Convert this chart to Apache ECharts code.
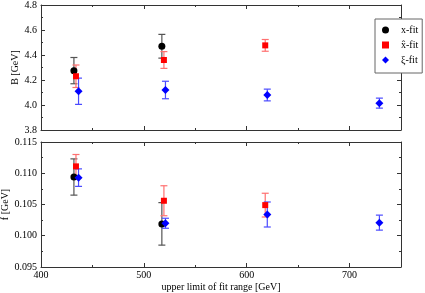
<!DOCTYPE html>
<html><head><meta charset="utf-8">
<script src="https://cdn.jsdelivr.net/npm/echarts@6/dist/echarts.min.js"></script>
<style>html,body{margin:0;padding:0;background:#fff}#c{width:425px;height:293px}</style>
</head><body><div id="c"></div>
<script>
// x positions (GeV)
const xX    = [432, 517.5];
const xXhat = [434, 519.5, 618];
const xXi   = [436.5, 521, 620, 729];
// B [GeV]
const B_x      = [4.275, 4.47];
const B_x_err  = [0.105, 0.095];
const B_xhat   = [4.23, 4.36, 4.477];
const B_xhat_err = [0.09, 0.067, 0.047];
const B_xi     = [4.11, 4.12, 4.08, 4.015];
const B_xi_err = [0.105, 0.07, 0.047, 0.04];
// f [GeV]
const f_x      = [0.1094, 0.1019];
const f_x_err  = [0.0029, 0.0034];
const f_xhat   = [0.1111, 0.1056, 0.1049];
const f_xhat_err = [0.0019, 0.0024, 0.0019];
const f_xi     = [0.1093, 0.1020, 0.1034, 0.1021];
const f_xi_err = [0.0014, 0.0008, 0.0020, 0.0012];

const names = ['x-fit', 'x\u0302-fit', '\u03BE-fit'];
const colors = ['#000000', '#ff0000', '#0000ff'];
const errColors = ['#555555', '#ff7070', '#4a4aff'];
const symbols = ['circle', 'rect', 'diamond'];
const symSizes = [7, 6, 8];

const FONT = 'Liberation Serif';
const axisColor = '#333';

function xAxisDef(grid, pos, labels, name) {
  return {
    type: 'value', gridIndex: grid, position: pos, min: 400, max: 750, interval: 100,
    axisLine: {show: true, onZero: false, lineStyle: {color: axisColor, width: 1}},
    axisTick: {show: true, inside: true, length: 4, lineStyle: {color: axisColor}},
    minorTick: {show: true, splitNumber: 2, length: 2, lineStyle: {color: axisColor}},
    splitLine: {show: false},
    axisLabel: {show: labels, color: '#000', fontFamily: FONT, fontSize: 10, margin: 3,
      showMaxLabel: false},
    name: name || '', nameLocation: 'middle', nameGap: 15, nameMoveOverlap: false,
    nameTextStyle: {color: '#000', fontFamily: FONT, fontSize: 10}
  };
}
function yAxisDef(grid, pos, labels, min, max, interval, dec, name, gap) {
  return {
    type: 'value', gridIndex: grid, position: pos, min: min, max: max, interval: interval,
    axisLine: {show: true, onZero: false, lineStyle: {color: axisColor, width: 1}},
    axisTick: {show: true, inside: true, length: 4, lineStyle: {color: axisColor}},
    minorTick: {show: true, splitNumber: 2, length: 2, lineStyle: {color: axisColor}},
    splitLine: {show: false},
    axisLabel: {show: labels, color: '#000', fontFamily: FONT, fontSize: 10, margin: 4,
      formatter: v => v.toFixed(dec)},
    name: name || '', nameLocation: 'middle', nameGap: gap || 30, nameMoveOverlap: false,
    nameTextStyle: {color: '#000', fontFamily: FONT, fontSize: 10}
  };
}

function errSeries(xs, ys, es, xAxisIndex, yAxisIndex, color) {
  return {
    type: 'custom', xAxisIndex: xAxisIndex, yAxisIndex: yAxisIndex, z: 1, silent: true,
    data: xs.map((x, i) => [x, ys[i] - es[i], ys[i] + es[i]]),
    renderItem: function (params, api) {
      const lo = api.coord([api.value(0), api.value(1)]);
      const hi = api.coord([api.value(0), api.value(2)]);
      const w = 3.5;
      const st = {stroke: color, lineWidth: 1.2, fill: null};
      return {type: 'group', children: [
        {type: 'line', shape: {x1: lo[0], y1: lo[1], x2: hi[0], y2: hi[1]}, style: st},
        {type: 'line', shape: {x1: lo[0] - w, y1: lo[1], x2: lo[0] + w, y2: lo[1]}, style: st},
        {type: 'line', shape: {x1: hi[0] - w, y1: hi[1], x2: hi[0] + w, y2: hi[1]}, style: st}
      ]};
    }
  };
}
function ptSeries(k, xs, ys, xAxisIndex, yAxisIndex, withName) {
  return {
    type: 'scatter', name: withName ? names[k] : undefined,
    xAxisIndex: xAxisIndex, yAxisIndex: yAxisIndex, z: 3,
    symbol: symbols[k], symbolSize: symSizes[k],
    itemStyle: {color: colors[k], opacity: 1},
    data: xs.map((x, i) => [x, ys[i]])
  };
}

const xsAll = [xX, xXhat, xXi];
const BAll = [B_x, B_xhat, B_xi], BErr = [B_x_err, B_xhat_err, B_xi_err];
const fAll = [f_x, f_xhat, f_xi], fErr = [f_x_err, f_xhat_err, f_xi_err];

const series = [];
for (let k = 0; k < 3; k++) {
  series.push(errSeries(xsAll[k], BAll[k], BErr[k], 0, 0, errColors[k]));
  series.push(errSeries(xsAll[k], fAll[k], fErr[k], 2, 2, errColors[k]));
}
for (let k = 0; k < 3; k++) {
  series.push(ptSeries(k, xsAll[k], BAll[k], 0, 0, true));
  series.push(ptSeries(k, xsAll[k], fAll[k], 2, 2, false));
}

const option = {
  backgroundColor: '#fff',
  animation: false,
  grid: [
    {left: 41, right: 24, top: 5, height: 125, outerBoundsMode: 'none', containLabel: false},
    {left: 41, right: 24, top: 142, height: 125, outerBoundsMode: 'none', containLabel: false}
  ],
  xAxis: [
    xAxisDef(0, 'bottom', false),
    xAxisDef(0, 'top', false),
    xAxisDef(1, 'bottom', true, 'upper limit of fit range [GeV]'),
    xAxisDef(1, 'top', false)
  ],
  yAxis: [
    yAxisDef(0, 'left', true, 3.8, 4.8, 0.2, 1, 'B [GeV]', 21),
    yAxisDef(0, 'right', false, 3.8, 4.8, 0.2, 1),
    yAxisDef(1, 'left', true, 0.095, 0.115, 0.005, 3, 'f [GeV]', 31),
    yAxisDef(1, 'right', false, 0.095, 0.115, 0.005, 3)
  ],
  legend: {
    data: names.map((n, k) => ({name: n, icon: symbols[k]})),
    orient: 'vertical', left: 375, top: 19,
    itemWidth: 7, itemHeight: 7, itemGap: 5,
    padding: [6, 4, 8, 7],
    borderColor: '#666', borderWidth: 1, backgroundColor: '#fff',
    textStyle: {fontFamily: FONT, fontSize: 10, color: '#000', padding: [0, 0, 0, 7]},
    selectedMode: false
  },
  series: series
};
const chart = echarts.init(document.getElementById('c'), null, {renderer: 'canvas'});
chart.setOption(option);
</script></body></html>
